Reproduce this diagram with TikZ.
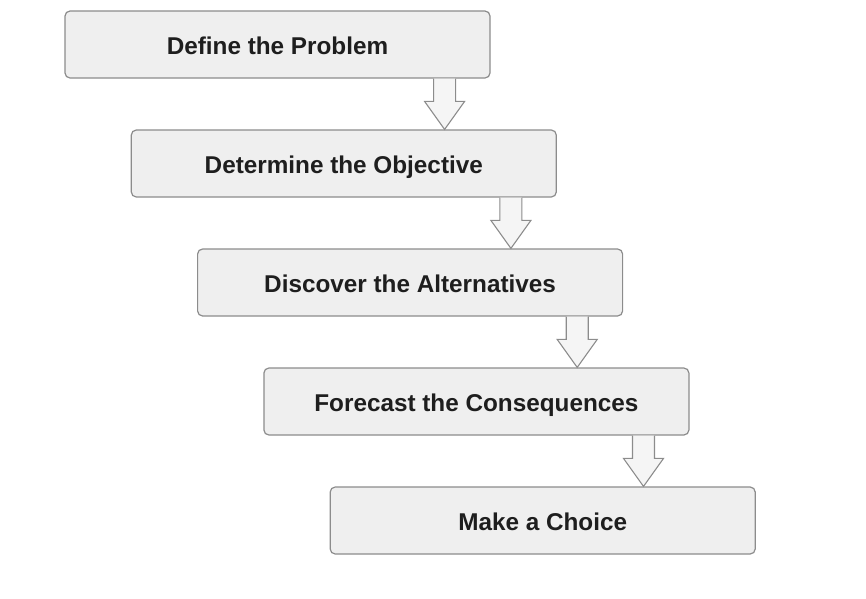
\documentclass[tikz,border=0pt]{standalone}
\usepackage{fontspec}
\setmainfont{Liberation Sans}
\usetikzlibrary{calc}

\definecolor{boxfill}{HTML}{EFEFEF}
\definecolor{boxline}{HTML}{8C8C8C}
\definecolor{labeltext}{HTML}{1E1E1E}

\tikzset{
  stepbox/.style={draw=boxline, fill=boxfill, line width=1.2pt, rounded corners=5pt,
    minimum width=425pt, minimum height=67pt, inner sep=0pt, text height=20pt, text depth=1pt,
    text=labeltext, font=\fontsize{24.3}{28}\selectfont\bfseries},
  hollow/.style={draw=boxline, fill=boxfill!60!white, line width=1.1pt, line join=miter},
}

\begin{document}
\begin{tikzpicture}[x=1pt, y=-1pt]
\useasboundingbox (0,0) rectangle (866,598);
\foreach \n/\t [count=\i] in {def/Define the Problem, obj/Determine the Objective, alt/Discover the Alternatives, cons/Forecast the Consequences, choice/Make a Choice} {
  \node[stepbox] (\n) at ({277.5+66.3*(\i-1)}, {44.5+119*(\i-1)}) {\t};
}
% block arrows between steps
\foreach \a/\b in {def/obj, obj/alt, alt/cons, cons/choice} {
  \coordinate (top) at ([xshift=-46pt]\a.south east);
  \coordinate (tip) at (top |- \b.north);
  \draw[hollow] ($(top)+(-11pt,0)$) -- ($(tip)+(-11pt,28pt)$) -- ($(tip)+(-20pt,28pt)$) -- (tip)
    -- ($(tip)+(20pt,28pt)$) -- ($(tip)+(11pt,28pt)$) -- ($(top)+(11pt,0)$);
}
\end{tikzpicture}
\end{document}
